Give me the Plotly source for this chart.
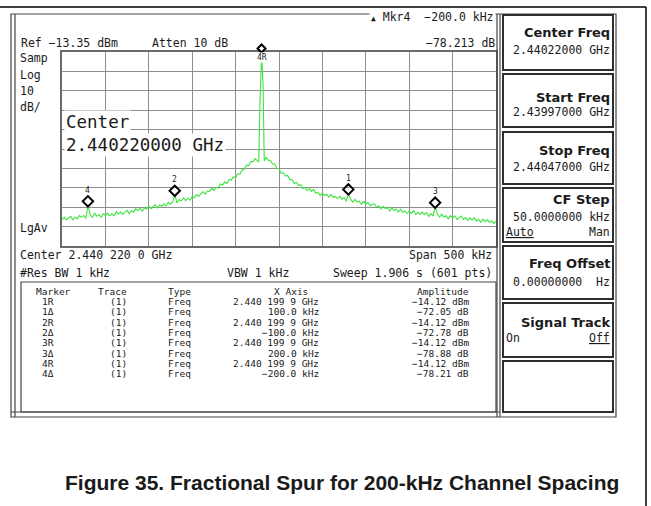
import plotly.graph_objects as go

W, H = 651, 506

# ---------------- data ----------------
sweep_offset_khz = [
    -250, -247.5, -245, -242.5, -240, -237.5, -235, -232.5, -230, -227.5,
    -225, -222.5, -220.1, -217.5, -215, -212.5, -210, -207.5, -205, -202.5,
    -200, -197.5, -195, -192.5, -190, -187.5, -185, -182.5, -180, -177.5,
    -175, -172.5, -170, -167.5, -165, -162.5, -160, -157.5, -155, -152.5,
    -150, -147.5, -145, -142.5, -140, -137.5, -135, -132.5, -130, -127.5,
    -125, -122.5, -120.1, -117.5, -115, -112.5, -110, -107.5, -105, -102.5,
    -100, -97.5, -95, -92.5, -90, -87.5, -85, -82.5, -80, -77.5,
    -75, -72.5, -70, -67.5, -65, -62.5, -60, -57.5, -55, -52.5,
    -50, -47.5, -45, -42.5, -40, -37.5, -35, -32.5, -30, -27.5,
    -25, -23.3, -22.0, -20.1, -18.3, -17.0, -15, -12.5, -10, -7.5,
    -5, -2.5, 0, 2.5, 5, 7.5, 10, 12.5, 15, 17.5,
    20, 22.5, 25, 27.5, 30, 32.5, 35, 37.5, 40, 42.5,
    45, 47.5, 50, 52.5, 55, 57.5, 60, 62.5, 65, 67.5,
    70, 72.5, 75, 77.5, 79.9, 82.5, 85, 87.5, 90, 92.5,
    95, 97.5, 100, 102.5, 105, 107.5, 110, 112.5, 115, 117.5,
    120, 122.5, 125, 127.5, 130, 132.5, 135, 137.5, 140, 142.5,
    145, 147.5, 150, 152.5, 155, 157.5, 160, 162.5, 165, 167.5,
    170, 172.5, 175, 177.5, 179.9, 182.5, 185, 187.5, 190, 192.5,
    195, 197.5, 200, 202.5, 205, 207.5, 210, 212.5, 215, 217.5,
    220, 222.5, 225, 227.5, 230, 232.5, 235, 237.5, 240, 242.5,
    245, 247.5, 250,
]
trace_dbm = [
    -99.9, -98.5, -99.8, -98.8, -98.1, -99.9, -98.5, -99.4, -97.7, -98.6,
    -97.6, -99.1, -92.33, -97.3, -98.6, -96.5, -98.0, -97.2, -98.6, -96.8,
    -97.6, -96.4, -97.8, -96.7, -97.8, -95.6, -96.9, -95.8, -97.1, -95.9,
    -95.0, -96.7, -95.1, -95.9, -94.2, -95.1, -93.9, -95.4, -93.7, -94.3,
    -92.8, -94.1, -92.9, -92.1, -93.8, -92.2, -92.9, -91.6, -92.7, -90.8,
    -91.8, -90.6, -86.90, -91.1, -89.5, -90.1, -88.6, -90.0, -88.7, -89.7,
    -87.8, -88.5, -86.8, -87.8, -86.5, -85.3, -86.6, -84.9, -85.3, -83.6,
    -84.7, -83.1, -83.6, -81.4, -81.9, -80.3, -81.2, -79.1, -79.4, -77.6,
    -78.2, -76.1, -76.3, -74.2, -73.8, -71.7, -71.9, -69.8, -70.0, -68.3,
    -69.5, -70.0, -41.7, -14.12, -31.4, -69.5, -67.6, -69.1, -69.2, -71.1,
    -71.1, -73.3, -73.6, -75.9, -75.6, -77.3, -77.0, -79.2, -79.0, -81.2,
    -80.5, -82.2, -81.7, -83.7, -83.2, -84.7, -83.8, -85.2, -84.2, -86.2,
    -85.7, -87.4, -86.1, -87.3, -86.7, -88.2, -86.8, -88.4, -87.8, -88.9,
    -87.8, -89.2, -88.5, -90.2, -86.17, -89.3, -90.7, -89.3, -90.7, -90.2,
    -91.9, -90.4, -91.8, -91.0, -92.7, -91.9, -91.6, -93.4, -92.7, -94.2,
    -92.9, -94.1, -93.5, -95.3, -93.7, -95.1, -94.3, -95.9, -94.4, -96.0,
    -95.3, -96.6, -95.3, -96.5, -95.2, -97.2, -96.0, -97.1, -95.9, -97.1,
    -96.1, -98.1, -96.7, -97.9, -93.00, -96.9, -98.4, -96.9, -98.4, -97.8,
    -99.3, -97.7, -99.0, -97.8, -99.6, -98.5, -97.9, -99.7, -98.7, -100.1,
    -98.8, -99.9, -98.8, -100.5, -99.6, -101.1, -99.5, -100.8, -99.7, -101.2,
    -100.3, -101.8, -100.5,
]

ref_level_dbm = -13.35
db_per_div = 10
span_khz = 500

mkr_ref_offset_khz = -20.1
mkr_ref_dbm = -14.12
mkr_ids = ["1", "2", "3", "4"]
mkr_delta_khz = [100.0, -100.0, 200.0, -200.0]
mkr_delta_db = [-72.05, -72.78, -78.88, -78.21]

table_headers = ["Marker", "Trace", "Type", "X Axis", "Amplitude"]
table_marker = ["1R", "1Δ", "2R", "2Δ", "3R", "3Δ", "4R", "4Δ"]
table_trace = ["(1)", "(1)", "(1)", "(1)", "(1)", "(1)", "(1)", "(1)"]
table_type = ["Freq", "Freq", "Freq", "Freq", "Freq", "Freq", "Freq", "Freq"]
table_xaxis = ["2.440 199 9 GHz", "100.0 kHz", "2.440 199 9 GHz", "−100.0 kHz",
               "2.440 199 9 GHz", "200.0 kHz", "2.440 199 9 GHz", "−200.0 kHz"]
table_amp = ["−14.12 dBm", "−72.05 dB", "−14.12 dBm", "−72.78 dB",
             "−14.12 dBm", "−78.88 dB", "−14.12 dBm", "−78.21 dB"]

softkey_titles = ["Center Freq", "Start Freq", "Stop Freq", "CF Step",
                  "Freq Offset", "Signal Track", ""]
softkey_values = ["2.44022000 GHz", "2.43997000 GHz", "2.44047000 GHz",
                  "50.0000000 kHz", "0.00000000  Hz", "", ""]

caption = "Figure 35. Fractional Spur for 200-kHz Channel Spacing"

# ---------------- layout helpers ----------------
MONO = "DejaVu Sans Mono"
SANS = "DejaVu Sans"
INK = "#1a1a1a"


def X(px):
    return px / W


def Y(py):
    return 1 - py / H


fig = go.Figure()

fig.add_trace(go.Scatter(
    x=sweep_offset_khz, y=trace_dbm, mode="lines",
    line=dict(color="#3ee43e", width=1.1), hoverinfo="skip"))

# delta marker diamonds, just above their spurs
mk_x = [mkr_ref_offset_khz + d for d in mkr_delta_khz]
mk_y = [mkr_ref_dbm + d for d in mkr_delta_db]
lift = 2.0
fig.add_trace(go.Scatter(
    x=mk_x, y=[v + lift for v in mk_y],
    mode="markers", cliponaxis=False,
    marker=dict(symbol="diamond-open", size=8, color="black", line=dict(width=2, color="black")),
    hoverinfo="skip"))
for lab, xx, yy in zip(mkr_ids, mk_x, mk_y):
    fig.add_annotation(x=xx, y=yy + lift, xref="x", yref="y", text=lab, showarrow=False,
                       yshift=11, font=dict(family=MONO, size=8, color=INK))
fig.add_annotation(x=mkr_ref_offset_khz, y=mkr_ref_dbm, xref="x", yref="y", text="4R",
                   showarrow=False, yshift=-4.5, bgcolor="white", borderpad=0,
                   font=dict(family=MONO, size=8, color=INK))

fig.update_layout(
    width=W, height=H, margin=dict(l=0, r=0, t=0, b=0),
    paper_bgcolor="white", plot_bgcolor="white", showlegend=False,
    xaxis=dict(domain=[X(62), X(496)], range=[-span_khz / 2, span_khz / 2],
               dtick=span_khz / 10, tick0=-span_khz / 2, showticklabels=False, ticks="",
               showgrid=True, gridcolor="#8e8e8e", gridwidth=1.2, zeroline=False,
               showline=True, mirror=True, linecolor="#6a6a6a", linewidth=2, fixedrange=True),
    yaxis=dict(domain=[Y(246), Y(52)], range=[ref_level_dbm - 10 * db_per_div, ref_level_dbm],
               dtick=db_per_div, tick0=ref_level_dbm, showticklabels=False, ticks="",
               showgrid=True, gridcolor="#8e8e8e", gridwidth=1.2, zeroline=False,
               showline=True, mirror=True, linecolor="#6a6a6a", linewidth=2, fixedrange=True),
)

shapes = []

# reference marker diamond sitting on the top edge of the graticule, above the peak
shapes.append(dict(type="path", xref="x", yref="paper", xsizemode="pixel", ysizemode="pixel",
                   xanchor=mkr_ref_offset_khz, yanchor=Y(52),
                   path="M0,7.5 L4,3.5 L0,-0.5 L-4,3.5 Z", layer="above",
                   line=dict(color="black", width=2), fillcolor="white"))


def line(x0, y0, x1, y1, color="#333", width=1.2):
    shapes.append(dict(type="line", xref="paper", yref="paper", x0=X(x0), y0=Y(y0),
                       x1=X(x1), y1=Y(y1), line=dict(color=color, width=width)))


def rect(x0, y0, x1, y1, color="#333", width=1.2):
    shapes.append(dict(type="rect", xref="paper", yref="paper", x0=X(x0), y0=Y(y0),
                       x1=X(x1), y1=Y(y1), line=dict(color=color, width=width)))


def txt(x, y, s, size=11.5, anchor="left", family=MONO, bold=False, bg=None, pad=0):
    if bold:
        s = "<b>" + s + "</b>"
    fig.add_annotation(x=X(x), y=Y(y), xref="paper", yref="paper", text=s, showarrow=False,
                       xanchor=anchor, yanchor="middle", borderpad=pad,
                       bgcolor=bg if bg else "rgba(0,0,0,0)",
                       font=dict(family=family, size=size, color=INK))


# page frame
line(0, 7, 646, 7, color="black", width=1.5)
line(646, 7, 646, 506, color="black", width=1.5)

# instrument screen
rect(11, 14, 616, 417, color="#444", width=1.2)
line(15, 14, 15, 417, color="#444", width=1.2)
line(11, 412, 500, 412, color="#444", width=1.2)
line(497, 14, 497, 417, color="#444", width=1.2)
line(500, 14, 500, 417, color="#444", width=1.2)
rect(21, 282, 496, 412, color="#444", width=1.2)

# softkeys
sk_top = [15, 74, 132, 188, 246, 303, 361]
sk_bot = [70, 127, 184, 242, 299, 357, 412]
for t, b in zip(sk_top, sk_bot):
    rect(503, t, 613, b, color="#2e2e2e", width=2)
fig.update_layout(shapes=shapes)

# top-of-screen readouts
txt(20, 43, "Ref −13.35 dBm")
txt(151, 43, "Atten 10 dB")
txt(496, 17, "<span style='font-size:8px'>▲</span> Mkr4  −200.0 kHz", anchor="right",
    bg="white", pad=1)
txt(496, 43, "−78.213 dB", anchor="right")
for s, yy in zip(["Samp", "Log", "10", "dB/"], [58, 75, 91, 107]):
    txt(19, yy, s)
txt(19, 228, "LgAv")

# big center annotation
txt(64, 122, "Center", size=17.5, bg="white", pad=1)
txt(64, 145, "2.440220000 GHz", size=17.5, bg="white", pad=1)

# below grid
txt(19, 255, "Center 2.440 220 0 GHz")
txt(493, 255, "Span 500 kHz", anchor="right")
txt(19, 273, "#Res BW 1 kHz")
txt(226, 273, "VBW 1 kHz")
txt(493, 273, "Sweep 1.906 s (601 pts)", anchor="right")

# marker table
TS = 9.5
hdr_x = [53, 112, 167, 291, 470]
hdr_anchor = ["center", "center", "left", "center", "right"]
for h, xx, an in zip(table_headers, hdr_x, hdr_anchor):
    txt(xx, 291, h, size=TS, anchor=an)
row_y = [301.5, 311.8, 322.1, 332.4, 342.7, 353.0, 363.3, 373.6]
for i, yy in enumerate(row_y):
    txt(48, yy, table_marker[i], size=TS, anchor="center")
    txt(118, yy, table_trace[i], size=TS, anchor="center")
    txt(167, yy, table_type[i], size=TS, anchor="left")
    txt(320, yy, table_xaxis[i], size=TS, anchor="right")
    txt(470, yy, table_amp[i], size=TS, anchor="right")

# softkey labels
title_y = [33, 97, 150, 200, 263, 322]
value_y = [50, 112, 167, 217, 282]
for s, yy in zip(softkey_titles, title_y):
    txt(611, yy, s, size=13, anchor="right", family=SANS, bold=True)
for s, yy in zip(softkey_values, value_y):
    txt(611, yy, s, size=11.5, anchor="right")
txt(505, 232, "<span style='text-decoration:underline'>Auto</span>", size=11.5)
txt(611, 232, "Man", size=11.5, anchor="right")
txt(505, 338, "On", size=11.5)
txt(611, 338, "<span style='text-decoration:underline'>Off</span>", size=11.5, anchor="right")

# caption
txt(342, 482, caption, size=21, anchor="center", family="Liberation Sans", bold=True)

fig.write_html("out.html", config={"displayModeBar": False},
               post_script="document.body.style.margin='0px';document.body.style.padding='0px';")
